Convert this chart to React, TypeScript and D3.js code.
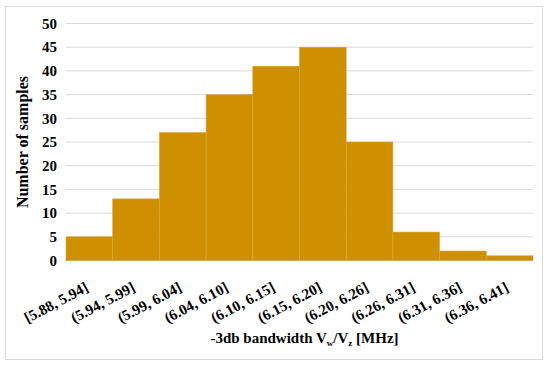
import React, { useEffect, useRef } from "react";
import * as d3 from "d3";

// bins of the -3db bandwidth (MHz) and how many samples fell in each
const binLabels = [
  "[5.88, 5.94]",
  "(5.94, 5.99]",
  "(5.99, 6.04]",
  "(6.04, 6.10]",
  "(6.10, 6.15]",
  "(6.15, 6.20]",
  "(6.20, 6.26]",
  "(6.26, 6.31]",
  "(6.31, 6.36]",
  "(6.36, 6.41]",
];
const sampleCounts = [5, 13, 27, 35, 41, 45, 25, 6, 2, 1];
const yTicks = [0, 5, 10, 15, 20, 25, 30, 35, 40, 45, 50];

export default function App() {
  const ref = useRef<SVGSVGElement>(null);

  useEffect(() => {
    const width = 550;
    const height = 367;
    const margin = { top: 23.5, right: 17, bottom: 106.5, left: 66 };
    const font = "'Liberation Serif', 'Times New Roman', serif";

    const svg = d3.select(ref.current);
    svg.selectAll("*").remove();

    // outer chart border
    svg
      .append("rect")
      .attr("x", 5.5)
      .attr("y", 6.5)
      .attr("width", 537)
      .attr("height", 353)
      .attr("fill", "#fff")
      .attr("stroke", "#d9d9d9");

    const x = d3
      .scaleBand()
      .domain(binLabels)
      .range([margin.left, width - margin.right])
      .padding(0);
    const y = d3
      .scaleLinear()
      .domain([0, 50])
      .range([height - margin.bottom, margin.top]);

    // gridlines
    svg
      .append("g")
      .selectAll("line")
      .data(yTicks)
      .join("line")
      .attr("x1", margin.left)
      .attr("x2", width - margin.right)
      .attr("y1", (d) => y(d))
      .attr("y2", (d) => y(d))
      .attr("stroke", "#d9d9d9")
      .attr("stroke-width", 1);

    // bars
    svg
      .append("g")
      .selectAll("rect")
      .data(sampleCounts)
      .join("rect")
      .attr("x", (d, i) => x(binLabels[i])!)
      .attr("y", (d) => y(d))
      .attr("width", x.bandwidth())
      .attr("height", (d) => y(0) - y(d))
      .attr("fill", "#cf9000")
      .attr("stroke", "#dba640")
      .attr("stroke-width", 0.6);

    // y tick labels
    svg
      .append("g")
      .selectAll("text")
      .data(yTicks)
      .join("text")
      .attr("x", 57)
      .attr("y", (d) => y(d))
      .attr("dy", "0.35em")
      .attr("text-anchor", "end")
      .attr("font-family", font)
      .attr("font-weight", "bold")
      .attr("font-size", 15)
      .attr("fill", "#000")
      .text((d) => d);

    // x tick labels, rotated
    svg
      .append("g")
      .selectAll("text")
      .data(binLabels)
      .join("text")
      .attr("transform", (d) => {
        const cx = x(d)! + x.bandwidth() / 2;
        return `translate(${cx},${height - margin.bottom + 30}) rotate(-28)`;
      })
      .attr("text-anchor", "end")
      .attr("font-family", font)
      .attr("font-weight", "bold")
      .attr("font-size", 15)
      .attr("fill", "#000")
      .text((d) => d);

    // y axis title
    svg
      .append("text")
      .attr("transform", `translate(28,${(margin.top + height - margin.bottom) / 2}) rotate(-90)`)
      .attr("text-anchor", "middle")
      .attr("font-family", font)
      .attr("font-weight", "bold")
      .attr("font-size", 16)
      .text("Number of samples");

    // x axis title with subscripts
    const title = svg
      .append("text")
      .attr("x", (margin.left + width - margin.right) / 2 + 5)
      .attr("y", 343)
      .attr("text-anchor", "middle")
      .attr("font-family", font)
      .attr("font-weight", "bold")
      .attr("font-size", 15);
    title.append("tspan").text("-3db bandwidth V");
    title.append("tspan").attr("font-size", 9).attr("dy", 3).text("w");
    title.append("tspan").attr("dy", -3).text("/V");
    title.append("tspan").attr("font-size", 9).attr("dy", 3).text("z");
    title.append("tspan").attr("dy", -3).text(" [MHz]");
  }, []);

  return (
    <svg
      ref={ref}
      width={550}
      height={367}
      style={{ position: "absolute", left: 0, top: 0 }}
    />
  );
}
